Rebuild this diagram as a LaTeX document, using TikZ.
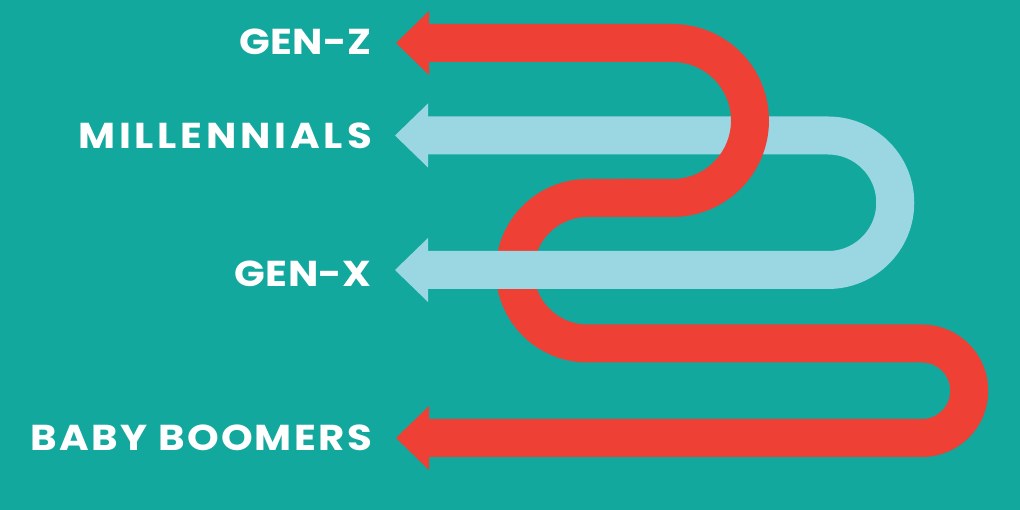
\documentclass[tikz,border=0pt]{standalone}
\usepackage{fontspec}
\setmainfont{Poppins}
\newfontfamily\labA{Poppins}[LetterSpace=1.5]
\newfontfamily\labB{Poppins}[LetterSpace=9.4]
\newfontfamily\labC{Poppins}[LetterSpace=5.7]
\usetikzlibrary{arrows.meta}
\definecolor{teal}{RGB}{18,168,157}
\definecolor{redband}{RGB}{239,64,54}
\definecolor{blueband}{RGB}{155,215,226}
\newcommand{\wide}[1]{\scalebox{1.12}[1]{#1}}
\tikzset{
  band/.style={line width=38pt},
  head/.style={-{Triangle[length=33pt,width=64pt,line width=0pt]}},
  heads/.style={{Triangle[length=33pt,width=64pt,line width=0pt]}-{Triangle[length=33pt,width=64pt,line width=0pt]}},
  lab/.style={anchor=east,inner sep=0pt,text=white,font=\bfseries\fontsize{36}{36}\selectfont}
}
\begin{document}
\begin{tikzpicture}[x=1pt,y=1pt]
\fill[teal] (0,0) rectangle (1020,510);
\useasboundingbox (0,0) rectangle (1020,510);
% labels
\node[lab] (genz) at (372,468) {\wide{\labA\bfseries GEN-Z}};
\node[lab] (mill) at (372,374) {\wide{\labB\bfseries MILLENNIALS}};
\node[lab] (genx) at (372,236.5) {\wide{\labA\bfseries GEN-X}};
\node[lab] (boom) at (372,72) {\wide{\labC\bfseries BABY BOOMERS}};
% tips
\coordinate (tipz) at (396,467);
\coordinate (tipm) at (395,374.5);
\coordinate (tipx) at (395,240);
\coordinate (tipb) at (396,72);
\coordinate (redmidA) at (620,312);
\coordinate (redmidB) at (640,312);
% red lower part
\draw[band,redband,head] (redmidB) -- (587.5,312) arc[start angle=90,end angle=270,radius=72.75]
  -- (922,166.5) arc[start angle=90,end angle=-90,radius=47.25] -- (tipb);
% blue
\draw[band,blueband,heads] (tipm) -- (828,374.5) arc[start angle=90,end angle=-90,radius=67.25] -- (tipx);
% red upper part
\draw[band,redband,head] (redmidA) -- (672.5,312) arc[start angle=-90,end angle=90,radius=77.5] -- (tipz);
\end{tikzpicture}
\end{document}
